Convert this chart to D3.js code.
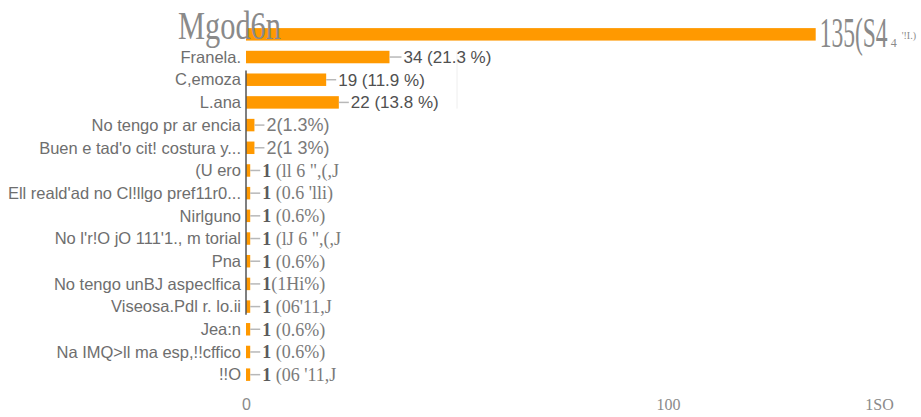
<!DOCTYPE html>
<html>
<head>
<meta charset="utf-8">
<script src="https://cdn.jsdelivr.net/npm/d3@7"></script>
<style>
  body { margin: 0; background: #fff; }
  svg { display: block; }
</style>
</head>
<body>
<div id="chart"></div>
<script>
// categories as they read in the picture
const categories = [
    'Mgod6n', 'Franela.', 'C,emoza', 'L.ana', 'No tengo pr ar encia',
    "Buen e tad'o cit!   costura  y...", '(U ero', "Ell reald'ad no Cl!llgo pref11r0...",
    'Nirlguno', "No l'r!O jO 111'1.,  m torial", 'Pna', 'No tengo unBJ aspeclfica',
    'Viseosa.Pdl r.   lo.ii', 'Jea:n', 'Na IMQ>ll ma   esp,!!cffico', '!!O'
];
const counts = [135, 34, 19, 22, 2, 2, 1, 1, 1, 1, 1, 1, 1, 1, 1, 1];
const valueLabels = [
    '135(S4', '34 (21.3 %)', '19 (11.9 %)', '22 (13.8 %)', '2(1.3%)', '2(1 3%)',
    '1 (ll 6 ",(,J', "1 (0.6 'lli)", '1 (0.6%)', '1 (lJ 6 ",(,J', '1 (0.6%)',
    '1(1Hi%)', "1 (06'11,J", '1 (0.6%)', '1 (0.6%)', "1 (06 '11,J"
];
const tickValues = [0, 100, 150];
const tickLabels = ['0', '100', '1SO'];

const width = 921, height = 417;
const orange = '#ff9900';

const svg = d3.select('#chart').append('svg')
    .attr('width', width)
    .attr('height', height);

const x = d3.scaleLinear().domain([0, 150]).range([246, 879]);
const y = d3.scaleBand().domain(d3.range(categories.length))
    .range([23, 386]).paddingInner(0.45).paddingOuter(0.225);
const mid = i => y(i) + y.bandwidth() / 2;

const rows = categories.map((c, i) => ({ i: i, name: c, n: counts[i], label: valueLabels[i] }));

// faint grid line
svg.append('line')
    .attr('x1', x(50)).attr('x2', x(50))
    .attr('y1', y(1)).attr('y2', y(3) + y.bandwidth())
    .style('stroke', '#eeeeee');

// bars
svg.selectAll('rect.bar')
    .data(rows)
    .enter()
    .append('rect')
        .attr('class', 'bar')
        .attr('x', x(0))
        .attr('y', d => y(d.i))
        .attr('width', d => x(d.n) - x(0))
        .attr('height', y.bandwidth())
        .style('fill', orange);

// axis line
svg.append('line')
    .attr('x1', x(0)).attr('x2', x(0))
    .attr('y1', y(2) - 3).attr('y2', y(12) + y.bandwidth() + 2)
    .style('stroke', '#555')
    .style('stroke-width', 1.5);

// connectors
svg.selectAll('line.conn')
    .data(rows.slice(1))
    .enter()
    .append('line')
        .attr('class', 'conn')
        .attr('x1', d => x(d.n))
        .attr('x2', d => x(d.n) + (d.i == 1 ? 12 : 10))
        .attr('y1', d => mid(d.i))
        .attr('y2', d => mid(d.i))
        .style('stroke', '#b8b8b8')
        .style('stroke-width', 1.5);

// category labels
svg.selectAll('text.cat')
    .data(rows.slice(1))
    .enter()
    .append('text')
        .attr('class', 'cat')
        .attr('x', 241)
        .attr('y', d => mid(d.i))
        .attr('dy', '0.35em')
        .attr('text-anchor', 'end')
        .style('font-family', '"Liberation Sans", Arial, sans-serif')
        .style('font-size', '16.5px')
        .style('fill', '#6e6e6e')
        .text(d => d.name);

// value labels
const vals = svg.selectAll('text.val')
    .data(rows.slice(1))
    .enter()
    .append('text')
        .attr('class', 'val')
        .attr('x', d => x(d.n) + (d.i == 1 ? 14 : 12))
        .attr('y', d => mid(d.i))
        .attr('dy', '0.35em')
        .style('font-family', d => d.i >= 6 ? '"Liberation Serif", serif' : '"Liberation Sans", Arial, sans-serif')
        .style('font-size', d => d.i <= 3 ? '17px' : '18px')
        .style('fill', d => d.i <= 3 ? '#505050' : '#7a7a7a');

vals.filter(d => d.i < 6).text(d => d.label);
vals.filter(d => d.i >= 6).each(function(d) {
    const t = d3.select(this);
    t.append('tspan').style('font-weight', 'bold').style('fill', '#5a5a5a').text(d.label.slice(0, 1));
    t.append('tspan').text(d.label.slice(1));
});

// first row, drawn large and narrow
const firstRow = rows[0];
svg.append('g')
    .attr('transform', 'translate(281, ' + (mid(0) + 5) + ') scale(0.76, 1)')
    .append('text')
        .attr('text-anchor', 'end')
        .style('font-family', '"Liberation Serif", serif')
        .style('font-size', '40px')
        .style('fill', '#8a8a8a')
        .text(firstRow.name);

const vx = x(firstRow.n) + 4;
svg.append('g')
    .attr('transform', 'translate(' + vx + ', ' + (mid(0) + 13) + ') scale(0.56, 1)')
    .append('text')
        .style('font-family', '"Liberation Serif", serif')
        .style('font-size', '42px')
        .style('fill', '#8a8a8a')
        .text(firstRow.label);
svg.append('text')
    .attr('x', vx + 71)
    .attr('y', mid(0) + 13)
    .style('font-family', '"Liberation Serif", serif')
    .style('font-size', '12px')
    .style('fill', '#8a8a8a')
    .text('4');
svg.append('text')
    .attr('x', vx + 82)
    .attr('y', mid(0) + 5)
    .style('font-family', '"Liberation Serif", serif')
    .style('font-size', '10px')
    .style('fill', '#8a8a8a')
    .text("'!I.)");

// x axis
const axis = svg.append('g')
    .attr('transform', 'translate(0, 396)')
    .call(d3.axisBottom(x).tickValues(tickValues).tickFormat((d, i) => tickLabels[i]).tickSize(0));
axis.select('.domain').remove();
axis.selectAll('text')
    .style('font-family', (d, i) => i == 0 ? '"Liberation Sans", Arial, sans-serif' : '"Liberation Serif", serif')
    .style('font-size', '16px')
    .style('fill', '#8a8a8a');
</script>
</body>
</html>
